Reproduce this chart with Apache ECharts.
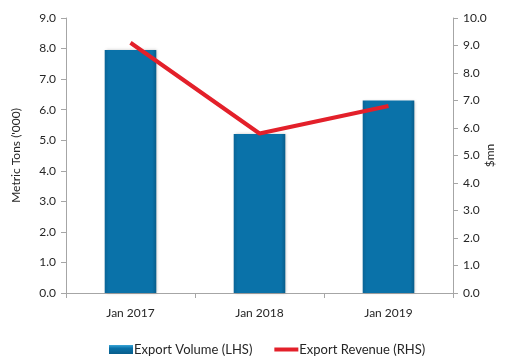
<!DOCTYPE html>
<html>
<head>
<meta charset="utf-8">
<script src="https://cdn.jsdelivr.net/npm/echarts@6/dist/echarts.min.js"></script>
<style>
  html, body { margin: 0; padding: 0; background: #fff; }
  #chart { width: 505px; height: 356px; }
</style>
</head>
<body>
<div id="chart"></div>
<script>
// Export volume and revenue by January snapshot
const categories = ['Jan 2017', 'Jan 2018', 'Jan 2019'];
const exportVolume = [7.95, 5.2, 6.3];   // metric tons ('000), left axis
const exportRevenue = [9.1, 5.8, 6.8];   // $mn, right axis
const leftTicks = { min: 0, max: 9, interval: 1 };
const rightTicks = { min: 0, max: 10, interval: 1 };

const font = 'Lato, "Open Sans", sans-serif';
const axisGray = '#a6a6a6';
const textColor = '#262626';
const red = '#e3202a';

const chart = echarts.init(document.getElementById('chart'), null, { renderer: 'canvas' });

const barFill = new echarts.graphic.LinearGradient(0, 0, 1, 0, [
  { offset: 0, color: '#0a6597' },
  { offset: 0.08, color: '#0a72a9' },
  { offset: 0.92, color: '#0a72a9' },
  { offset: 1, color: '#085d8b' }
]);
const legendBarFill = new echarts.graphic.LinearGradient(0, 0, 0, 1, [
  { offset: 0, color: '#3aa6d8' },
  { offset: 0.35, color: '#0a72a9' },
  { offset: 1, color: '#085d8b' }
]);

chart.setOption({
  animation: false,
  textStyle: { fontFamily: font },
  grid: { left: 66, right: 52, top: 18, bottom: 63, containLabel: false, outerBoundsMode: 'none' },
  legend: {
    bottom: 0,
    left: 109,
    padding: 0,
    itemGap: 22,
    itemWidth: 24,
    itemHeight: 9,
    textStyle: { fontFamily: font, fontSize: 13, color: textColor, padding: [0, 0, 0, -4] },
    data: [
      { name: 'Export Volume (LHS)', icon: 'rect', itemStyle: { color: legendBarFill } },
      { name: 'Export Revenue (RHS)', icon: 'path://M0,0 L24,0 L24,4 L0,4 Z', itemStyle: { color: red } }
    ]
  },
  xAxis: {
    type: 'category',
    data: categories,
    boundaryGap: true,
    axisLine: { lineStyle: { color: axisGray, width: 1 } },
    axisTick: { show: true, length: 5, inside: false, lineStyle: { color: axisGray } },
    axisLabel: { color: textColor, fontSize: 12, margin: 14, fontFamily: font },
    splitLine: { show: false }
  },
  yAxis: [
    {
      type: 'value',
      min: leftTicks.min, max: leftTicks.max, interval: leftTicks.interval,
      name: "Metric Tons ('000)",
      nameLocation: 'middle',
      nameRotate: 90,
      nameGap: 44,
      nameMoveOverlap: false,
      nameTextStyle: { color: textColor, fontSize: 12, fontFamily: font },
      axisLine: { show: true, lineStyle: { color: axisGray } },
      axisTick: { show: true, length: 5, lineStyle: { color: axisGray } },
      axisLabel: { color: textColor, fontSize: 12, margin: 10, fontFamily: font,
        formatter: v => v.toFixed(1) },
      splitLine: { show: false }
    },
    {
      type: 'value',
      position: 'right',
      min: rightTicks.min, max: rightTicks.max, interval: rightTicks.interval,
      name: '$mn',
      nameLocation: 'middle',
      nameRotate: 90,
      nameGap: 31,
      nameMoveOverlap: false,
      nameTextStyle: { color: textColor, fontSize: 12, fontFamily: font, padding: [0, 0, 10, 0] },
      axisLine: { show: true, lineStyle: { color: axisGray } },
      axisTick: { show: true, length: 5, lineStyle: { color: axisGray } },
      axisLabel: { color: textColor, fontSize: 12, margin: 10, fontFamily: font,
        formatter: v => v.toFixed(1) },
      splitLine: { show: false }
    }
  ],
  series: [
    {
      name: 'Export Volume (LHS)',
      type: 'bar',
      yAxisIndex: 0,
      data: exportVolume,
      barWidth: '40%',
      itemStyle: {
        color: barFill,
        shadowColor: 'rgba(0,0,0,0.25)',
        shadowBlur: 3,
        shadowOffsetX: 1,
        shadowOffsetY: 0
      }
    },
    {
      name: 'Export Revenue (RHS)',
      type: 'line',
      yAxisIndex: 1,
      data: exportRevenue,
      symbol: 'none',
      lineStyle: { color: red, width: 4 },
      itemStyle: { color: red }
    }
  ]
});
</script>
</body>
</html>
